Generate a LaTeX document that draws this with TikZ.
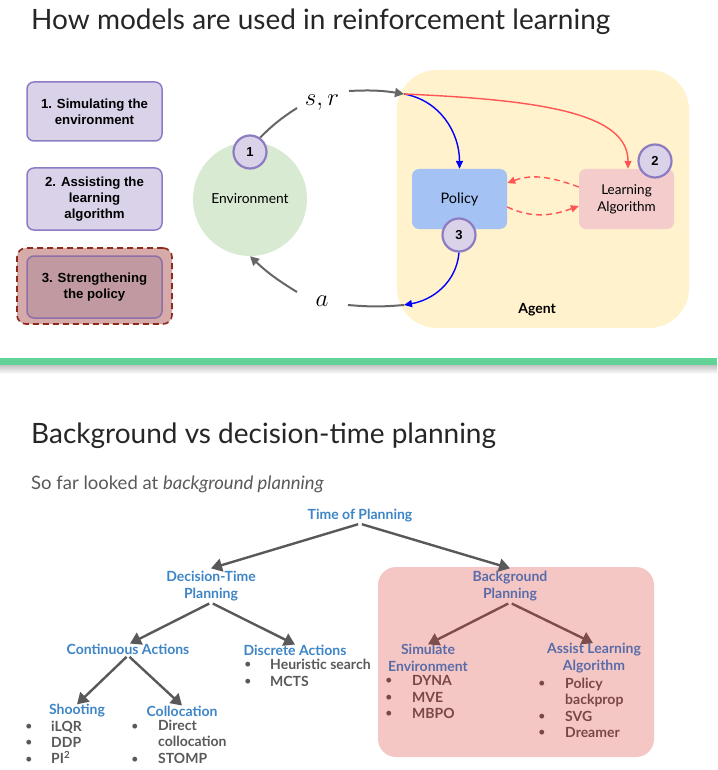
\documentclass[tikz,border=0pt]{standalone}
\usepackage{fontspec}
\setmainfont{Lato}
\newfontfamily\arialfont{Liberation Sans}
\usetikzlibrary{arrows.meta,shapes.geometric}
\definecolor{lav}{HTML}{D9D2E9}
\definecolor{lavd}{HTML}{8E7CC3}
\definecolor{rosy}{HTML}{D6AAA8}
\definecolor{dkred}{HTML}{8E2A1C}
\definecolor{mauve}{HTML}{C09AA0}
\definecolor{mauved}{HTML}{8E6FA8}
\definecolor{envgreen}{HTML}{D9EAD3}
\definecolor{agentyel}{HTML}{FFF2CC}
\definecolor{polblue}{HTML}{A4C2F4}
\definecolor{lapink}{HTML}{F4CCCC}
\definecolor{greenbar}{HTML}{62D297}
\definecolor{tblue}{HTML}{3D85C6}
\definecolor{tgray}{HTML}{595959}
\definecolor{bgpink}{HTML}{F4C7C5}
\definecolor{bglabel}{HTML}{5A6CA8}
\definecolor{bgitem}{HTML}{7A4646}
\definecolor{bgarrow}{HTML}{7D4C4C}
\definecolor{redarr}{HTML}{FF5555}
\definecolor{grayarr}{HTML}{666666}
\newcommand{\fs}[1]{\fontsize{#1}{#1}\selectfont}
\begin{document}
\begin{tikzpicture}[x=1pt,y=-1pt,
  lbox/.style={rounded corners=7pt, fill=lav, draw=lavd, line width=1.5pt, align=center,
    minimum width=135pt, minimum height=59pt, font=\arialfont\bfseries\fontsize{13.2}{16}\selectfont, inner sep=0pt},
  numc/.style={circle, fill=lav, draw=lavd, line width=2.2pt, minimum size=33pt, inner sep=0pt,
    font=\arialfont\bfseries\fs{13}},
  garrow/.style={draw=grayarr, line width=2pt, -{Triangle[length=9pt,width=9pt]}},
  gline/.style={draw=grayarr, line width=2pt},
  barrow/.style={draw=blue, line width=1.4pt, -{Triangle[length=8pt,width=7pt]}},
  rarrow/.style={draw=redarr, line width=1.4pt, -{Triangle[length=8pt,width=7pt]}},
  rdash/.style={draw=redarr, line width=1.4pt, dash pattern=on 6pt off 4pt, -{Triangle[length=8pt,width=7pt]}},
  tlab/.style={text=tblue, font=\bfseries\fs{14}, align=center, inner sep=1pt},
  blab/.style={text=bglabel, font=\bfseries\fs{14}, align=center, inner sep=1pt},
  tarrow/.style={draw=tgray, line width=2.4pt, -{Triangle[length=11pt,width=13pt]}, shorten <=2pt},
  brarrow/.style={draw=bgarrow, line width=2.4pt, -{Triangle[length=11pt,width=13pt]}, shorten <=2pt},
  itm/.style={anchor=west, inner sep=0pt, text height=10pt, text depth=3pt, font=\bfseries\fs{14}},
  bul/.style={anchor=center, inner sep=0pt, font=\fs{13}}
]
\useasboundingbox (0,0) rectangle (717,770);
\fill[white] (0,0) rectangle (717,770);

% ---------- top slide ----------
\node[anchor=west, inner sep=0pt, text=black!85, font=\fs{28}] (title1) at (31,22) {How models are used in reinforcement learning};

\node[lbox] (b1) at (94.5,111.5) {1. Simulating the\\environment};
\node[lbox, minimum height=62pt] (b2) at (94.5,199) {2. Assisting the\\learning\\algorithm};
\node[draw=dkred, line width=1.6pt, dash pattern=on 6pt off 4pt, fill=rosy, rounded corners=9pt,
  minimum width=155pt, minimum height=76pt] (b3o) at (94.5,286) {};
\node[lbox, fill=mauve, draw=mauved, minimum height=62pt] (b3) at (94.5,287) {3. Strengthening\\the policy};

\node[fill=agentyel, rounded corners=40pt, minimum width=292pt, minimum height=258pt, inner sep=0pt] (agent) at (543,199) {};
\node[font=\bfseries\fs{14}, inner sep=1pt] (agentlab) at (537,310) {Agent};

\node[circle, fill=envgreen, minimum size=114pt, inner sep=0pt, font=\fs{13.8}] (env) at (250,199) {Environment};
\node[numc] (c1) at (250,152) {1};

\node[fill=polblue, rounded corners=7pt, minimum width=95pt, minimum height=60pt, font=\fs{14.5}] (pol) at (459.5,199) {Policy};
\node[fill=lapink, rounded corners=7pt, minimum width=95pt, minimum height=60pt, align=center,
  font=\fontsize{13.5}{17}\selectfont] (la) at (626.5,199) {Learning\\Algorithm};
\node[numc] (c2) at (655,161) {2};
\node[numc] (c3) at (459,235) {3};

\node[font=\fs{25}, inner sep=1pt] (sr) at (322,103) {$s,r$};
\node[font=\fs{25}, inner sep=1pt] (act) at (322,301) {$a$};
\coordinate (in) at (404,94);
\coordinate (out) at (404,305);

\draw[gline] (c1.55) to[bend left=6] ([xshift=-25pt,yshift=-5pt]sr.center);
\draw[garrow] ([xshift=27pt,yshift=12pt]sr.center) to[bend left=6] (in);
\draw[gline] (out) to[bend left=5] ([xshift=26pt,yshift=-4pt]act.center);
\draw[garrow] ([xshift=-25pt,yshift=9pt]act.center) to[bend left=6] (env.south);

\draw[barrow] (in) to[out=-10,in=90] (pol.north);
\draw[rarrow] (in) .. controls +(140,6) and +(0,-55) .. ([xshift=1.5pt]la.north);
\draw[rdash] ([yshift=12pt]la.west) to[out=160,in=20] ([yshift=16pt]pol.east);
\draw[rdash] ([yshift=-8pt]pol.east) to[out=-25,in=200] ([yshift=-7pt]la.west);
\draw[barrow] (c3.south) to[out=-95,in=10] (out);

% ---------- divider ----------
\fill[greenbar] (0,358) rectangle (717,365.5);
\shade[top color=black!22, bottom color=white] (0,365.5) rectangle (717,374);

% ---------- bottom slide ----------
\node[anchor=west, inner sep=0pt, text=black!85, font=\fs{28}] (title2) at (31,436) {Background vs decision-time planning};
\node[anchor=west, inner sep=0pt, text=tgray, font=\fs{18.5}] (sofar) at (31,484) {So far looked at \textit{background planning}};

\node[fill=bgpink, rounded corners=18pt, minimum width=276pt, minimum height=190pt, inner sep=0pt] (bgbox) at (516,662) {};

\node[tlab] (tp) at (360,516) {Time of Planning};
\node[tlab, font=\bfseries\fontsize{14}{17}\selectfont] (dt) at (211,586.5) {Decision-Time\\Planning};
\node[blab, font=\bfseries\fontsize{14}{17}\selectfont] (bp) at (510,586.5) {Background\\Planning};
\node[tlab] (ca) at (128,649) {Continuous Actions};
\node[tlab] (da) at (295,650) {Discrete Actions};
\node[tlab] (sh) at (77,711) {Shooting};
\node[tlab] (co) at (182,711) {Collocation};
\node[blab, font=\bfseries\fontsize{14}{16.5}\selectfont] (se) at (428,658) {Simulate\\Environment};
\node[blab, font=\bfseries\fontsize{14}{16.5}\selectfont] (al) at (594,658) {Assist Learning\\Algorithm};

\draw[tarrow] (tp.south) -- ([yshift=2pt]dt.north);
\draw[tarrow] (tp.south) -- ([yshift=2pt]bp.north);
\draw[tarrow] (dt.south) -- ([xshift=2pt,yshift=-1pt]ca.north);
\draw[tarrow] (dt.south) -- ([yshift=-1pt]da.north);
\draw[tarrow] (ca.south) -- ([yshift=-1pt]sh.north);
\draw[tarrow] (ca.south) -- ([yshift=-1pt]co.north);
\draw[brarrow] (bp.south) -- ([yshift=-1pt]se.north);
\draw[brarrow] (bp.south) -- ([xshift=-1pt,yshift=-1pt]al.north);

% discrete actions list
\begin{scope}[every node/.append style={text=tgray}]
\node[bul] (d1b) at (248,665) {•}; \node[itm] (d1) at (270,666) {Heuristic search};
\node[bul] (d2b) at (248,682) {•}; \node[itm] (d2) at (270,683) {MCTS};
% shooting
\node[bul] (s1b) at (29,727) {•}; \node[itm] (s1) at (51,728) {iLQR};
\node[bul] (s2b) at (29,743) {•}; \node[itm] (s2) at (51,744) {DDP};
\node[bul] (s3b) at (29,760) {•}; \node[itm] (s3) at (51,760) {PI\textsuperscript{2}};
% collocation
\node[bul] (k1b) at (135,727) {•}; \node[itm] (k1) at (158,727) {Direct};
\node[itm] (k1c) at (158,743) {collocation};
\node[bul] (k2b) at (135,760) {•}; \node[itm] (k2) at (158,760) {STOMP};
\end{scope}
\begin{scope}[every node/.append style={text=bgitem}]
\node[bul] (e1b) at (389,681) {•}; \node[itm] (e1) at (412,682) {DYNA};
\node[bul] (e2b) at (389,698) {•}; \node[itm] (e2) at (412,699) {MVE};
\node[bul] (e3b) at (389,714) {•}; \node[itm] (e3) at (412,715) {MBPO};
\node[bul] (a1b) at (542,684) {•}; \node[itm] (a1) at (565,685) {Policy};
\node[itm] (a1c) at (565,701) {backprop};
\node[bul] (a2b) at (542,717) {•}; \node[itm] (a2) at (565,718) {SVG};
\node[bul] (a3b) at (542,733) {•}; \node[itm] (a3) at (565,734) {Dreamer};
\end{scope}
\end{tikzpicture}
\end{document}
